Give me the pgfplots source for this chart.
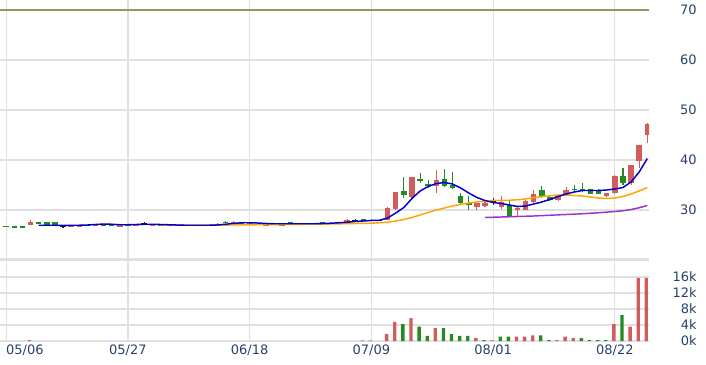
\documentclass[border=0pt]{standalone}
\usepackage{fontspec}
\setmainfont{DejaVu Sans}
\usepackage{pgfplots}
\usepackage{pgfplotstable}
\pgfplotsset{compat=1.18}

\definecolor{upred}{RGB}{208,92,92}
\definecolor{dngreen}{RGB}{34,139,34}
\definecolor{dojic}{RGB}{30,30,40}
\definecolor{maA}{RGB}{0,0,205}
\definecolor{maB}{RGB}{255,165,0}
\definecolor{maC}{RGB}{153,50,204}
\definecolor{gridc}{RGB}{224,224,224}
\definecolor{olivec}{RGB}{150,150,100}
\definecolor{labc}{RGB}{40,65,105}

\pgfplotstableread{
i o h l c
3 26.95 28.05 26.9 27.5
8 26.6 26.85 26.55 26.85
9 26.8 27.0 26.75 26.95
11 26.9 27.05 26.85 27.0
14 26.6 26.95 26.55 26.9
16 27.0 27.15 26.95 27.1
18 27.0 27.15 26.95 27.1
21 26.85 27.0 26.8 26.95
23 26.85 27.0 26.8 26.95
25 26.85 27.05 26.8 27.0
26 27.0 27.3 26.95 27.2
28 27.3 27.8 27.25 27.65
30 27.3 27.55 27.25 27.45
32 27.0 27.2 26.95 27.15
33 27.05 27.2 27.0 27.15
34 27.0 27.2 26.95 27.15
36 27.1 27.25 27.05 27.2
38 27.15 27.35 27.1 27.3
40 27.3 27.5 27.25 27.45
41 27.35 27.6 27.3 27.55
42 27.45 28.1 27.4 27.9
47 27.9 30.5 27.9 30.4
48 30.1 33.6 30.0 33.5
50 32.5 36.6 32.4 36.5
53 34.7 38.0 33.3 36.0
58 30.5 31.4 30.0 31.3
59 30.8 31.6 30.6 31.4
61 30.5 32.8 30.1 31.5
63 30.0 30.7 28.7 30.3
64 30.0 32.0 29.9 31.7
65 31.5 34.0 31.3 33.1
68 32.0 32.9 31.8 32.7
69 33.0 34.5 32.8 33.9
74 32.8 33.4 32.5 33.3
75 33.3 36.9 33.2 36.7
77 35.3 39.0 35.0 38.9
78 39.7 43.0 38.3 42.9
79 45.0 47.3 43.3 47.2
}\upT

\pgfplotstableread{
i o h l c
0 26.75 26.8 26.6 26.65
1 26.65 26.7 26.55 26.6
2 26.65 26.7 26.55 26.6
4 27.45 27.6 27.2 27.35
5 27.55 27.6 26.95 27.0
6 27.55 27.6 26.95 27.0
10 27.0 27.05 26.85 26.9
12 27.05 27.15 26.9 26.95
13 27.0 27.05 26.75 26.8
15 27.1 27.15 26.95 27.0
19 27.0 27.05 26.85 26.9
20 27.0 27.05 26.85 26.9
22 27.0 27.05 26.85 26.9
24 26.95 27.0 26.85 26.9
27 27.6 27.7 27.35 27.4
29 27.5 27.6 27.3 27.35
31 27.25 27.3 27.05 27.1
35 27.5 27.6 27.3 27.35
37 27.2 27.25 27.05 27.1
39 27.45 27.5 27.3 27.35
44 28.1 28.15 27.85 27.9
45 28.05 28.1 27.85 27.9
49 33.8 36.6 32.3 33.0
51 36.2 37.3 35.3 35.8
52 35.1 36.0 34.3 34.7
54 36.1 38.1 34.5 34.7
55 35.0 37.5 34.2 34.3
56 32.7 33.3 31.2 31.3
57 31.3 32.7 30.0 30.9
62 31.0 32.0 28.7 28.8
66 34.0 34.8 32.3 32.5
67 32.5 32.9 31.7 32.0
70 34.2 35.0 33.5 34.0
71 34.1 35.3 33.5 33.9
72 34.1 34.2 33.1 33.2
73 34.0 34.1 33.1 33.2
76 36.7 38.3 35.0 35.3
}\downT

\pgfplotstableread{
i o h l c
7 26.8 26.9 26.45 26.8
17 27.3 27.5 27.2 27.3
43 27.9 28.1 27.8 27.9
46 27.9 28.0 27.85 27.9
60 31.7 32.3 31.0 31.7
}\dojiT

\pgfplotstableread{
i v
3 0.2
47 1.7
48 4.8
50 5.75
53 3.25
58 0.7
60 0.15
63 1.1
64 1.1
65 1.4
68 0.2
69 1.1
70 0.7
75 4.25
77 3.6
78 15.8
79 15.8
}\volUp

\pgfplotstableread{
i v
44 0.1
45 0.1
49 4.2
51 3.6
52 1.3
54 3.25
55 1.7
56 1.3
57 1.3
59 0.2
61 1.1
62 1.1
66 1.4
67 0.2
71 0.7
72 0.2
73 0.2
74 0.2
76 6.5
}\volDn

\pgfplotstableread{
i v
4 26.95
5 26.95
6 26.95
7 26.9
8 26.95
9 26.95
10 27.0
11 27.1
12 27.2
13 27.15
14 27.05
15 27.05
16 27.1
17 27.15
18 27.15
19 27.1
20 27.05
21 27.0
22 26.95
23 26.95
24 26.95
25 26.95
26 27.0
27 27.15
28 27.3
29 27.45
30 27.45
31 27.4
32 27.3
33 27.25
34 27.25
35 27.25
36 27.25
37 27.25
38 27.25
39 27.3
40 27.35
41 27.45
42 27.55
43 27.7
44 27.8
45 27.9
46 27.95
47 28.4
48 29.4
49 30.5
50 32.3
51 33.8
52 34.7
53 35.3
54 35.5
55 35.2
56 34.4
57 33.4
58 32.5
59 31.9
60 31.5
61 31.3
62 31.0
63 30.7
64 30.8
65 31.2
66 31.6
67 32.1
68 32.7
69 33.2
70 33.6
71 33.9
72 33.9
73 33.9
74 34.0
75 34.2
76 34.5
77 35.6
78 37.6
79 40.3
}\maFive

\pgfplotstableread{
i v
19 27.0
22 27.0
25 26.98
28 27.0
31 27.05
34 27.1
37 27.15
40 27.2
43 27.3
45 27.35
46 27.45
47 27.55
48 27.8
49 28.1
50 28.5
51 29.0
52 29.5
53 30.0
54 30.4
55 30.8
56 31.1
57 31.4
58 31.6
59 31.8
60 31.9
61 31.95
62 31.95
63 32.05
64 32.2
65 32.45
66 32.7
67 32.85
68 33.0
69 33.0
70 32.9
71 32.8
72 32.6
73 32.4
74 32.3
75 32.4
76 32.7
77 33.2
78 33.8
79 34.5
}\maTwenty

\pgfplotstableread{
i v
59 28.5
61 28.6
63 28.7
65 28.8
67 28.95
69 29.1
71 29.25
73 29.45
75 29.7
76 29.85
77 30.1
78 30.45
79 30.9
}\maSixty

\pgfplotsset{
  panel/.style={
    scale only axis, width=486.75pt, anchor=south west,
    xmin=-0.764, xmax=79.21,
    axis line style={draw=none}, tick style={draw=none}, major tick length=0pt,
    xtick={0,15,30,45,60,75},
    xmajorgrids, ymajorgrids, grid style={draw=gridc, line width=0.9pt},
    yticklabel pos=right,
    yticklabel style={anchor=east, xshift=36pt, inner sep=0pt,
      font=\fontsize{9.75}{11}\selectfont, text=labc},
  },
  wick/.style={draw=none, mark=none, forget plot,
    error bars/.cd, y dir=both, y explicit, error mark=none,
    error bar style={line width=0.8pt, draw=#1, solid}},
  body/.style={draw=none, mark=none, forget plot,
    error bars/.cd, y dir=both, y explicit, error mark=none,
    error bar style={line width=4.1pt, draw=#1, solid}},
}

\begin{document}
\begin{tikzpicture}
\path[use as bounding box] (0,0) rectangle (529.5pt,273pt);

\begin{axis}[panel,
  at={(0pt,78.75pt)}, height=194.25pt,
  ymin=20.2, ymax=72,
  xticklabels={},
  ytick={30,40,50,60}, yticklabels={30,40,50,60},
  extra y ticks={70}, extra y tick labels={70},
  extra y tick style={grid style={draw=olivec, line width=1pt}},
]
\addplot[wick=upred] table[x=i, y expr={(\thisrow{h}+\thisrow{l})/2}, y error expr={(\thisrow{h}-\thisrow{l})/2}] {\upT};
\addplot[wick=dngreen] table[x=i, y expr={(\thisrow{h}+\thisrow{l})/2}, y error expr={(\thisrow{h}-\thisrow{l})/2}] {\downT};
\addplot[wick=dojic] table[x=i, y expr={(\thisrow{h}+\thisrow{l})/2}, y error expr={(\thisrow{h}-\thisrow{l})/2}] {\dojiT};
\addplot[body=upred] table[x=i, y expr={(\thisrow{o}+\thisrow{c})/2}, y error expr={max(abs(\thisrow{c}-\thisrow{o})/2,0.1)}] {\upT};
\addplot[body=dngreen] table[x=i, y expr={(\thisrow{o}+\thisrow{c})/2}, y error expr={max(abs(\thisrow{c}-\thisrow{o})/2,0.1)}] {\downT};
\addplot[body=dojic] table[x=i, y expr={(\thisrow{o}+\thisrow{c})/2}, y error expr={max(abs(\thisrow{c}-\thisrow{o})/2,0.1)}] {\dojiT};
\addplot[maC, line width=1.1pt, mark=none] table[x=i, y=v] {\maSixty};
\addplot[maB, line width=1.1pt, mark=none] table[x=i, y=v] {\maTwenty};
\addplot[maA, line width=1.1pt, mark=none] table[x=i, y=v] {\maFive};
\end{axis}

\begin{axis}[panel,
  at={(0pt,17.25pt)}, height=60.75pt,
  ymin=0, ymax=20.25,
  ytick={0,4,8,12,16}, yticklabels={0k,4k,8k,12k,16k},
  xticklabels={\makebox[0pt][l]{05/06},05/27,06/18,07/09,08/01,08/22},
  xticklabel style={anchor=north, inner sep=0pt, yshift=-3pt,
      font=\fontsize{9.75}{11}\selectfont, text=labc},
]
\addplot[ybar, bar width=2.5pt, bar shift=-0.75pt, fill=upred, draw=none] table[x=i, y=v] {\volUp};
\addplot[ybar, bar width=2.5pt, bar shift=-0.75pt, fill=dngreen, draw=none] table[x=i, y=v] {\volDn};
\end{axis}

\draw[gridc, line width=2.25pt] (0pt,78pt) -- (486.75pt,78pt);
\end{tikzpicture}
\end{document}
